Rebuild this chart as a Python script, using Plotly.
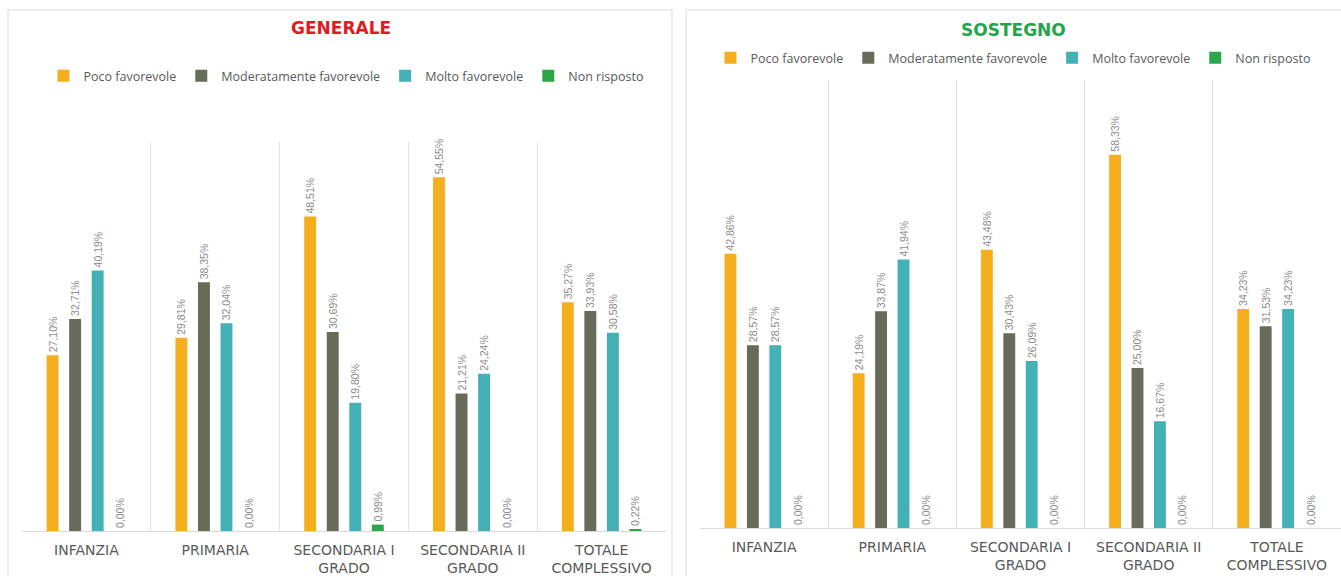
import plotly.graph_objects as go

# Categories (school levels) and response series
categories = ["INFANZIA", "PRIMARIA", "SECONDARIA I<br>GRADO", "SECONDARIA II<br>GRADO", "TOTALE<br>COMPLESSIVO"]
series_names = ["Poco favorevole", "Moderatamente favorevole", "Molto favorevole", "Non risposto"]
series_colors = ["#F5AF1E", "#676B59", "#44B1B6", "#2BA64B"]

generale_poco = [27.10, 29.81, 48.51, 54.55, 35.27]
generale_moderato = [32.71, 38.35, 30.69, 21.21, 33.93]
generale_molto = [40.19, 32.04, 19.80, 24.24, 30.58]
generale_non_risposto = [0.00, 0.00, 0.99, 0.00, 0.22]

sostegno_poco = [42.86, 24.19, 43.48, 58.33, 34.23]
sostegno_moderato = [28.57, 33.87, 30.43, 25.00, 31.53]
sostegno_molto = [28.57, 41.94, 26.09, 16.67, 34.23]
sostegno_non_risposto = [0.00, 0.00, 0.00, 0.00, 0.00]

W, H = 1341, 576

def px_x(v):
    return v / W

def px_y(v):
    return 1 - v / H

fig = go.Figure()

panels = [
    ("x", "y", "legend", [generale_poco, generale_moderato, generale_molto, generale_non_risposto]),
    ("x2", "y2", "legend2", [sostegno_poco, sostegno_moderato, sostegno_molto, sostegno_non_risposto]),
]

for xa, ya, leg, values in panels:
    for name, color, vals in zip(series_names, series_colors, values):
        fig.add_trace(go.Bar(
            x=categories, y=vals, name=name, marker=dict(color=color, line=dict(width=0)),
            xaxis=xa, yaxis=ya, legend=leg,
            texttemplate="%{y:.2f}%", textposition="outside", textangle=-90,
            constraintext="none",
            textfont=dict(family="Liberation Sans, Arial", size=10.5, color="#8A8A8A"),
            cliponaxis=False,
        ))

axis_common = dict(
    type="category", tickson="boundaries", showgrid=True, gridcolor="#E3E3E3", gridwidth=1,
    showline=True, linecolor="#D9D9D9", linewidth=1, ticks="",
    tickfont=dict(family="DejaVu Sans", size=14, color="#595959"),
    ticklabelstandoff=6,
    fixedrange=True,
)
yaxis_common = dict(showgrid=False, showticklabels=False, zeroline=False, ticks="", showline=False)

legend_common = dict(
    orientation="h", yanchor="middle", xanchor="center",
    font=dict(family="Open Sans", size=12.5, color="#595959"),
    itemwidth=30, traceorder="normal", bgcolor="rgba(0,0,0,0)",
)

fig.update_layout(
    width=W, height=H,
    margin=dict(l=0, r=0, t=0, b=0),
    paper_bgcolor="white", plot_bgcolor="white",
    separators=",.",
    barmode="group", bargap=0.30, bargroupgap=0.47,
    xaxis=dict(domain=[px_x(22), px_x(666)], anchor="y", **axis_common),
    yaxis=dict(domain=[px_y(531), px_y(142)], range=[0, 60], anchor="x", **yaxis_common),
    xaxis2=dict(domain=[px_x(700), min(1.0, px_x(1342))], anchor="y2", **axis_common),
    yaxis2=dict(domain=[px_y(528), px_y(80)], range=[0, 70], anchor="x2", **yaxis_common),
    legend=dict(x=px_x(346), y=px_y(76), **legend_common),
    legend2=dict(x=px_x(1013), y=px_y(58), **legend_common),
    showlegend=True,
    annotations=[
        dict(text="<b>GENERALE</b>", x=px_x(341), y=px_y(28), xref="paper", yref="paper",
             showarrow=False, xanchor="center", yanchor="middle",
             font=dict(family="DejaVu Sans", size=17, color="#E3191F")),
        dict(text="<b>SOSTEGNO</b>", x=px_x(1013), y=px_y(30), xref="paper", yref="paper",
             showarrow=False, xanchor="center", yanchor="middle",
             font=dict(family="DejaVu Sans", size=17, color="#1FA64A")),
    ],
    shapes=[
        dict(type="rect", xref="paper", yref="paper", x0=px_x(8), x1=px_x(672), y0=-0.05, y1=px_y(10),
             line=dict(color="#D9D9D9", width=1), layer="below"),
        dict(type="rect", xref="paper", yref="paper", x0=px_x(686), x1=1.02, y0=-0.05, y1=px_y(10),
             line=dict(color="#D9D9D9", width=1), layer="below"),
    ],
)

fig.write_html("out.html")
